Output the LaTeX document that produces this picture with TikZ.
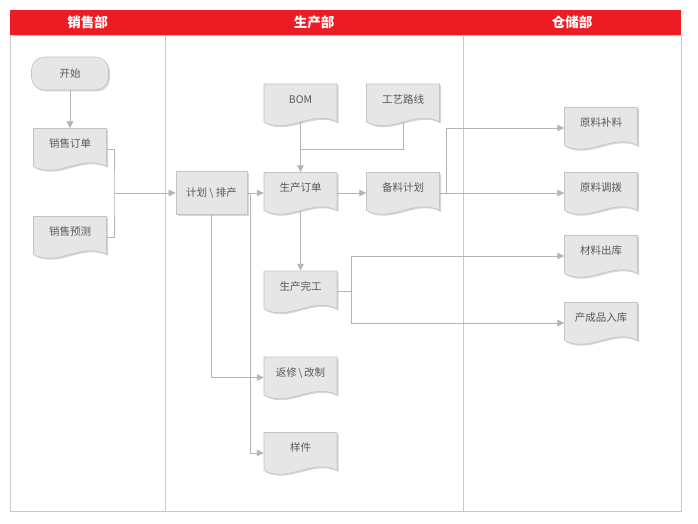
\documentclass[tikz,border=0pt]{standalone}
\usepackage{fontspec}
\setmainfont{Noto Sans CJK SC}
\usetikzlibrary{arrows.meta,shadows,calc}
\definecolor{hdr}{HTML}{ED1C24}
\definecolor{txtcol}{HTML}{595959}
\definecolor{lanecol}{HTML}{C8C8C8}
\definecolor{conncol}{HTML}{B4B4B4}
\definecolor{boxfill}{HTML}{E6E6E6}
\definecolor{boxline}{HTML}{C4C4C4}
\pgfdeclarelayer{bg}
\pgfsetlayers{bg,main}
\tikzset{
  lbl/.style={text=txtcol, font=\fontsize{10.5}{12}\selectfont},
  docnode/.style={lbl, minimum width=73pt, minimum height=41pt, inner sep=0pt, text height=8pt, text depth=11pt},
  docpath/.style={fill=boxfill, draw=boxline, line width=0.6pt, drop shadow={shadow xshift=1.5pt, shadow yshift=-1.5pt, opacity=0.45, fill=gray!70}},
  flatbox/.style={docpath, lbl, minimum width=71pt, minimum height=43pt, inner sep=0pt},
  startbox/.style={docpath, lbl, rounded corners=13pt, minimum width=77pt, minimum height=33pt, inner sep=0pt},
  connline/.style={draw=conncol, line width=0.9pt},
  arr/.style={connline, -{Triangle[width=6.5pt,length=7pt]}},
  hdrtext/.style={text=white, font=\fontsize{13.5}{15}\selectfont\bfseries},
}
\newcommand\docnode[4]{%
  \path[docpath] (#2-36.5,#3-20.5) -- (#2+36.5,#3-20.5) -- (#2+36.5,#3+17.5)
     .. controls +(-24,-13) and +(24,13) .. (#2-36.5,#3+17.5) -- cycle;
  \node[docnode] (#1) at (#2,#3) {#4};
}
\begin{document}
\begin{tikzpicture}[x=1pt,y=-1pt]
\useasboundingbox (0,0) rectangle (698,524);
\begin{pgfonlayer}{bg}
  \fill[white] (0,0) rectangle (698,524);
  \fill[hdr] (10,10) rectangle (681,35);
  \draw[lanecol, line width=0.8pt] (10,35) rectangle (681,511);
  \draw[lanecol, line width=0.8pt] (165,35) -- (165,511);
  \draw[lanecol, line width=0.8pt] (463,35) -- (463,511);
\end{pgfonlayer}
\node[hdrtext] (h1) at (87.5,22.5) {销售部};
\node[hdrtext] (h2) at (314,22.5) {生产部};
\node[hdrtext] (h3) at (572,22.5) {仓储部};

\node[startbox] (start) at (70,73.5) {开始};
\docnode{so}{70}{149}{销售订单}
\docnode{sf}{70}{237}{销售预测}
\node[flatbox] (plan) at (211.5,193) {计划 \textbackslash{} 排产};
\docnode{bom}{300.5}{104.5}{BOM}
\docnode{route}{403}{104.5}{工艺路线}
\docnode{po}{300.5}{193}{生产订单}
\docnode{mp}{403}{193}{备料计划}
\docnode{done}{300.5}{291.5}{生产完工}
\docnode{rework}{300.5}{377.5}{返修\hspace{1.5pt}\textbackslash\hspace{1.5pt}改制}
\docnode{sample}{300.5}{453}{样件}
\docnode{rm1}{601}{128}{原料补料}
\docnode{rm2}{601}{193}{原料调拨}
\docnode{mo}{601}{256}{材料出库}
\docnode{fg}{601}{323}{产成品入库}

\begin{pgfonlayer}{bg}
  \draw[arr] (start.south) -- (so.north);
  \coordinate (j1) at (114,193);
  \draw[connline] (so.east) -| (j1) |- (sf.east);
  \draw[arr] (j1) -- (plan.west);
  \draw[arr] (plan.east) -- (po.west);
  \coordinate (j2) at (250,193);
  \draw[arr] (j2) |- (sample.west);
  \draw[arr] (plan.south) |- (rework.west);
  \coordinate (j3) at (300.5,149);
  \draw[connline] (route.center) |- (j3);
  \draw[arr] (bom.center) -- (po.north);
  \draw[arr] (po.east) -- (mp.west);
  \coordinate (j4) at (446,193);
  \draw[arr] (mp.east) -- (rm2.west);
  \draw[arr] (j4) |- (rm1.west);
  \draw[arr] (po.center) -- (done.north);
  \coordinate (j5) at (351,291.5);
  \draw[connline] (done.east) -- (j5);
  \draw[arr] (j5) |- (mo.west);
  \draw[arr] (j5) |- (fg.west);
\end{pgfonlayer}
\end{tikzpicture}
\end{document}
